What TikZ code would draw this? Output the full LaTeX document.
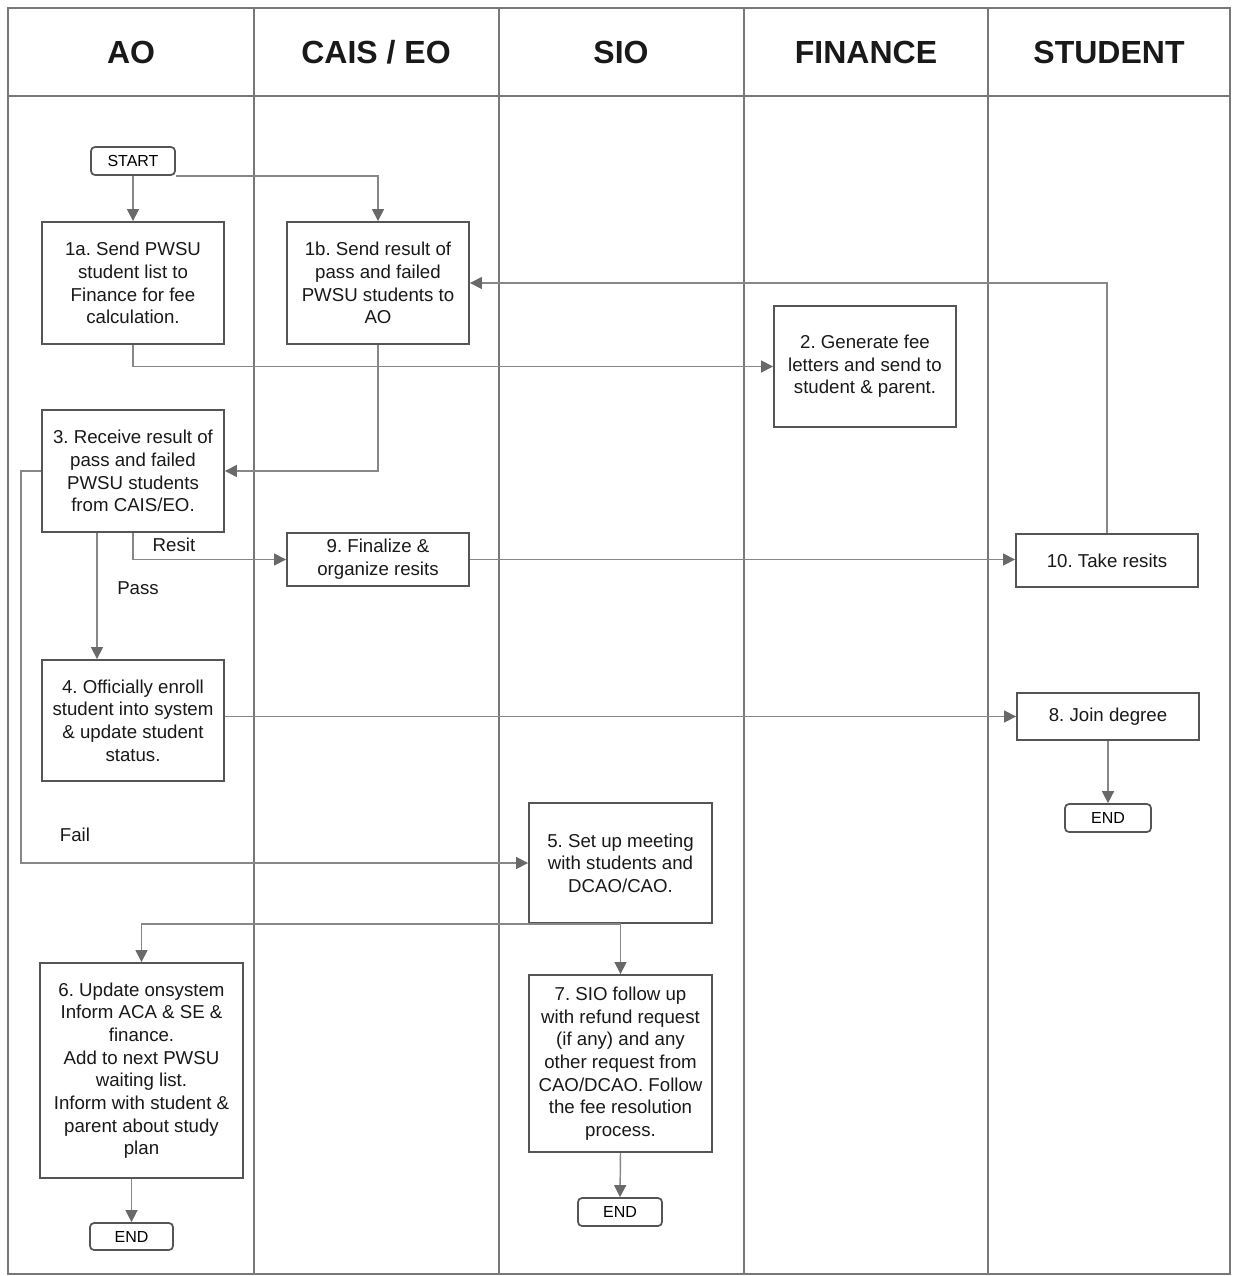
\documentclass[tikz,border=0pt]{standalone}
\usepackage{fontspec}
\setmainfont{Liberation Sans}
\usetikzlibrary{arrows.meta}
\frenchspacing
\definecolor{boxc}{RGB}{85,85,85}
\definecolor{linec}{RGB}{135,135,135}
\definecolor{lanec}{RGB}{120,120,120}
\definecolor{tipc}{RGB}{105,105,105}
\tikzset{
  stepbox/.style={draw=boxc, line width=1.4pt, fill=white, align=center, inner sep=2pt,
    font=\fontsize{14}{17}\selectfont\frenchspacing, text=black!90},
  termbox/.style={draw=boxc, line width=1.3pt, rounded corners=3pt, fill=white,
    minimum width=63pt, minimum height=21pt, inner sep=1pt, font=\fontsize{12}{14}\selectfont},
  conn/.style={draw=linec, line width=1.1pt,
    -{Triangle[length=9pt,width=9pt,color=tipc,fill=tipc]}},
  lane/.style={draw=lanec, line width=1.1pt},
  head/.style={font=\fontsize{24}{28}\selectfont\bfseries, text=black!90},
  lbl/.style={font=\fontsize{14}{17}\selectfont, text=black!90, fill=white, inner sep=1pt}
}
\begin{document}
\begin{tikzpicture}[x=0.75pt,y=-0.75pt]
\useasboundingbox (0,0) rectangle (1234,1276);
% frame and lanes
\draw[lane] (8,8) rectangle (1230,1274);
\draw[lane] (8,96) -- (1230,96);
\foreach \xx in {254,499,744,988} \draw[lane] (\xx,8) -- (\xx,1274);
\node[head] (hao) at (131,52) {AO};
\node[head] (hcais) at (376,52) {CAIS / EO};
\node[head] (hsio) at (621,52) {SIO};
\node[head] (hfin) at (866,52) {FINANCE};
\node[head] (hstu) at (1109,52) {STUDENT};
% nodes
\node[termbox] (start) at (133,161) {START};
\node[stepbox, minimum width=136.5pt, minimum height=91.5pt] (a1) at (133,283)
  {1a. Send PWSU\\student list to\\Finance for fee\\calculation.};
\node[stepbox, minimum width=136.5pt, minimum height=91.5pt] (b1) at (378,283)
  {1b. Send result of\\pass and failed\\PWSU students to\\AO};
\node[stepbox, minimum width=136.5pt, minimum height=90.75pt] (f2) at (865,366.5)
  {2. Generate fee\\letters and send to\\student \& parent.};
\node[stepbox, minimum width=136.5pt, minimum height=91.5pt] (s3) at (133,471)
  {3. Receive result of\\pass and failed\\PWSU students\\from CAIS/EO.};
\node[stepbox, minimum width=136.5pt, minimum height=39.75pt] (r9) at (378,559.5)
  {9. Finalize \&\\organize resits};
\node[stepbox, minimum width=136.5pt, minimum height=39.75pt] (t10) at (1107,560.5)
  {10. Take resits};
\node[stepbox, minimum width=136.5pt, minimum height=90.75pt] (s4) at (133,720.5)
  {4. Officially enroll\\student into system\\\& update student\\status.};
\node[stepbox, minimum width=136.5pt, minimum height=35.25pt] (j8) at (1108,716.5)
  {8. Join degree};
\node[termbox, minimum width=64.5pt] (e2) at (1108,818) {END};
\node[stepbox, minimum width=137.25pt, minimum height=90pt] (s5) at (620.5,863)
  {5. Set up meeting\\with students and\\DCAO/CAO.};
\node[stepbox, minimum width=152.25pt, minimum height=161.25pt] (s6) at (141.5,1070.5)
  {6. Update onsystem\\Inform ACA \& SE \&\\finance.\\Add to next PWSU\\waiting list.\\Inform with student \&\\parent about study\\plan};
\node[stepbox, minimum width=137.25pt, minimum height=132.75pt] (s7) at (620.5,1063.5)
  {7. SIO follow up\\with refund request\\(if any) and any\\other request from\\CAO/DCAO. Follow\\the fee resolution\\process.};
\node[termbox] (e3) at (620,1212) {END};
\node[termbox, minimum width=62.25pt, minimum height=20.25pt] (e1) at (131.5,1236.5) {END};
% helper coordinates
\coordinate (failx) at (21,471);
\coordinate (passx) at (97,0);
% connectors
\draw[conn] (start.south) -- (a1.north);
\draw[conn] (start.south east) -| (b1.north);
\draw[conn] (a1.south) |- (f2.west);
\draw[conn] (b1.south) |- (s3.east);
\draw[conn] (t10.north) |- (b1.east);
\draw[conn] (s3.west) -- (failx) |- (s5.west);
\draw[conn] (s3.south -| passx) -- (s4.north -| passx);
\draw[conn] (s3.south) |- (r9.west);
\draw[conn] (r9.east) -- (r9.east -| t10.west);
\draw[conn] (s4.east |- j8.west) -- (j8.west);
\draw[conn] (j8.south) -- (e2.north);
\draw[conn] (s5.south) -- (s7.north);
\draw[conn] (s5.south) -| (s6.north);
\draw[conn] (e1.north |- s6.south) -- (e1.north);
\draw[conn] (s7.south) -- (e3.north);
% labels
\node[lbl] (lresit) at (174,545) {Resit};
\node[lbl] (lpass) at (138,588) {Pass};
\node[lbl] (lfail) at (75,835) {Fail};
\end{tikzpicture}
\end{document}
